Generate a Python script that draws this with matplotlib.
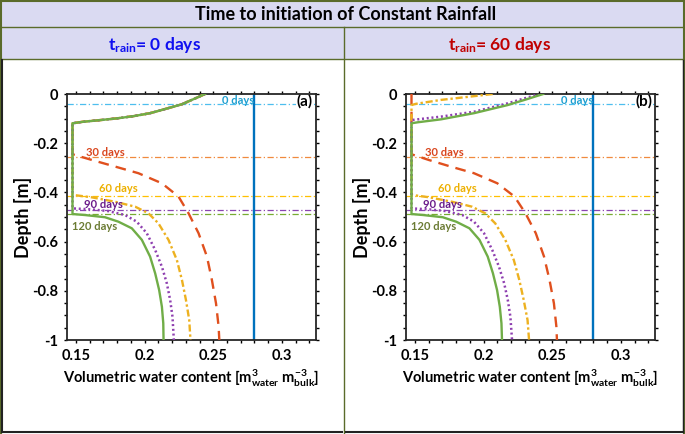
import matplotlib
matplotlib.use("Agg")
import matplotlib.pyplot as plt
from matplotlib.patches import Rectangle
from matplotlib.lines import Line2D
from matplotlib.ticker import MultipleLocator, FuncFormatter

plt.rcParams['font.family'] = 'Lato'
plt.rcParams['font.weight'] = 'bold'
plt.rcParams['axes.unicode_minus'] = False
plt.rcParams['mathtext.fontset'] = 'custom'
plt.rcParams['mathtext.rm'] = 'Lato:bold'
plt.rcParams['mathtext.it'] = 'Lato:bold'
plt.rcParams['mathtext.bf'] = 'Lato:bold'

# ---- data (theta in m3/m3, depth in m) ----
days = ["0 days", "30 days", "60 days", "90 days", "120 days"]
front_depth = [-0.04, -0.255, -0.413, -0.4715, -0.488]   # dash-dot marker lines
sat_theta = 0.2794                                         # 0 days profile

# panel (a): t_rain = 0 days
top_a_theta = [0.244, 0.236, 0.227, 0.215, 0.204, 0.192, 0.180, 0.166, 0.155, 0.1475]
top_a_depth = [0.0, -0.020, -0.042, -0.061, -0.078, -0.090, -0.099, -0.107, -0.113, -0.119]

d30_a_theta = [0.1475, 0.1615, 0.1785, 0.1955, 0.2126, 0.2247, 0.232, 0.2393, 0.2454, 0.249, 0.252, 0.2539, 0.2544]
d30_a_depth = [-0.245, -0.268, -0.295, -0.322, -0.363, -0.417, -0.485, -0.566, -0.661, -0.756, -0.851, -0.946, -1.0]
d60_a_theta = [0.1475, 0.1615, 0.1785, 0.1931, 0.2028, 0.2101, 0.2174, 0.2235, 0.2272, 0.2301, 0.2325, 0.2334]
d60_a_depth = [-0.41, -0.42, -0.438, -0.458, -0.485, -0.526, -0.593, -0.675, -0.756, -0.837, -0.919, -1.0]
d90_a_theta = [0.1475, 0.1615, 0.1736, 0.1858, 0.1943, 0.2016, 0.2077, 0.2126, 0.2162, 0.2186, 0.2203, 0.2213]
d90_a_depth = [-0.465, -0.469, -0.476, -0.492, -0.519, -0.566, -0.634, -0.702, -0.77, -0.837, -0.905, -1.0]
d120_a_theta = [0.1475, 0.1566, 0.1712, 0.1809, 0.1907, 0.198, 0.204, 0.2077, 0.2106, 0.2126, 0.2136, 0.2138]
d120_a_depth = [-0.488, -0.492, -0.501, -0.519, -0.546, -0.593, -0.661, -0.729, -0.797, -0.865, -0.932, -1.0]

# panel (b): t_rain = 60 days
d30_b_theta = [0.1475, 0.1475, 0.1600, 0.1760, 0.1930, 0.2100, 0.2225, 0.2305, 0.2380, 0.2440, 0.2480, 0.2512, 0.2530, 0.2534]
d30_b_depth = [0.0, -0.245, -0.268, -0.295, -0.322, -0.363, -0.417, -0.485, -0.566, -0.661, -0.756, -0.851, -0.946, -1.0]
d60_b_theta = [0.2066, 0.188, 0.169, 0.1507, 0.1475, 0.1475, 0.1605, 0.1770, 0.1915, 0.2012, 0.2085, 0.2158, 0.2220, 0.2260, 0.2292, 0.2320, 0.2331]
d60_b_depth = [0.0, -0.012, -0.024, -0.04, -0.045, -0.41, -0.42, -0.438, -0.458, -0.485, -0.526, -0.593, -0.675, -0.756, -0.837, -0.919, -1.0]
d90_b_theta = [0.241, 0.229, 0.2175, 0.1932, 0.169, 0.152, 0.1475, 0.1475, 0.1605, 0.1725, 0.1845, 0.1930, 0.2003, 0.2063, 0.2112, 0.2150, 0.2176, 0.2195, 0.2207]
d90_b_depth = [0.0, -0.019, -0.038, -0.072, -0.092, -0.103, -0.106, -0.465, -0.469, -0.476, -0.492, -0.519, -0.566, -0.634, -0.702, -0.77, -0.837, -0.905, -1.0]
d120_b_theta = [0.2434, 0.231, 0.2175, 0.193, 0.169, 0.152, 0.1475, 0.1475, 0.1560, 0.1703, 0.1800, 0.1897, 0.1970, 0.2030, 0.2068, 0.2098, 0.2118, 0.2130, 0.2134]
d120_b_depth = [0.0, -0.022, -0.045, -0.078, -0.103, -0.115, -0.119, -0.488, -0.492, -0.501, -0.519, -0.546, -0.593, -0.661, -0.729, -0.797, -0.865, -0.932, -1.0]

label_x = [0.268, 0.1712, 0.1809, 0.1698, 0.1636]
label_y = [-0.027, -0.237, -0.383, -0.449, -0.539]

# ---- styles ----
hline_colors = ['#4DBEEE', '#F08A3E', '#FFC000', '#8A45B0', '#77AC30']
label_colors = ['#1E9FD0', '#D9461E', '#EDB000', '#6A1B8A', '#6B7B33']
c30, c60, c90, c120 = '#E0501E', '#EDB120', '#8E3FB0', '#70AD47'
olive = '#5A6B2A'
lavender = '#DADAF2'

W, H = 685, 434
fig = plt.figure(figsize=(W / 100, H / 100), dpi=100)


def fx(x):
    return x / W


def fy(y):
    return 1 - y / H


# header cells
fig.patches.append(Rectangle((0, fy(59)), 1, fy(0) - fy(59), transform=fig.transFigure,
                             facecolor=lavender, edgecolor='none', zorder=0))
for (x0, y0, x1, y1, col, lw) in [
        (0, 1, W, 1, olive, 1.5), (0, 27, W, 27, olive, 1.0), (0, 59, W, 59, olive, 1.0),
        (1, 0, 1, H, olive, 1.5), (W - 1, 0, W - 1, H, olive, 1.5), (344, 27, 344, H, olive, 1.0),
        (2, 432, 342, 432, '#222222', 1.5), (2, 60, 2, 432, '#222222', 1.5),
        (346, 432, 683, 432, '#222222', 1.5), (683, 60, 683, 432, '#222222', 1.0)]:
    fig.add_artist(Line2D([fx(x0), fx(x1)], [fy(y0), fy(y1)], transform=fig.transFigure,
                          color=col, lw=lw))

fig.text(0.505, fy(14), "Time to initiation of Constant Rainfall", ha='center', va='center',
         fontsize=13, fontweight='bold', color='black')
fig.text(fx(155), fy(45), "$t_{rain}$= 0 days", ha='center', va='center',
         fontsize=12.5, fontweight='bold', color='#1010F0')
fig.text(fx(500), fy(45), "$t_{rain}$= 60 days", ha='center', va='center',
         fontsize=12.5, fontweight='bold', color='#C00000')

panels = [
    ("(a)", 67, [(top_a_theta + d30_a_theta, top_a_depth + d30_a_depth),
                 (top_a_theta + d60_a_theta, top_a_depth + d60_a_depth),
                 (top_a_theta + d90_a_theta, top_a_depth + d90_a_depth),
                 (top_a_theta + d120_a_theta, top_a_depth + d120_a_depth)]),
    ("(b)", 406, [(d30_b_theta, d30_b_depth), (d60_b_theta, d60_b_depth),
                  (d90_b_theta, d90_b_depth), (d120_b_theta, d120_b_depth)]),
]

fmt = FuncFormatter(lambda v, p: f"{round(v, 2) + 0:g}")

for tag, left, curves in panels:
    ax = fig.add_axes([fx(left), fy(340), 249 / W, 246 / H])
    ax.set_xlim(0.1435, 0.3248)
    ax.set_ylim(-1, 0)

    for d, c in zip(front_depth, hline_colors):
        ax.axhline(d, color=c, lw=0.9, dashes=(5, 2, 1, 2), zorder=1)
    ax.axvline(sat_theta, color='#0072BD', lw=1.7, zorder=2)

    (t30, z30), (t60, z60), (t90, z90), (t120, z120) = curves
    ax.plot(t30, z30, color=c30, lw=1.7, dashes=(4.5, 3), zorder=3)
    ax.plot(t60, z60, color=c60, lw=1.7, dashes=(3, 1.2, 1, 1.2), zorder=4)
    ax.plot(t90, z90, color=c90, lw=1.8, dashes=(0.8, 1.1), zorder=5)
    ax.plot(t120, z120, color=c120, lw=1.7, zorder=6)

    for name, x, y, c in zip(days, label_x, label_y, label_colors):
        ax.text(x, y, name, color=c, fontsize=8, fontweight='bold', ha='center',
                va='center', zorder=7)
    ax.text(0.3168, -0.03, tag, fontsize=11, fontweight='bold', ha='center', va='center',
            zorder=2.4, bbox=dict(facecolor='white', edgecolor='none', pad=0.5))

    ax.set_xticks([0.15, 0.2, 0.25, 0.3])
    ax.set_yticks([-1, -0.8, -0.6, -0.4, -0.2, 0])
    ax.xaxis.set_minor_locator(MultipleLocator(0.01))
    ax.yaxis.set_minor_locator(MultipleLocator(0.05))
    ax.xaxis.set_major_formatter(fmt)
    ax.yaxis.set_major_formatter(fmt)
    ax.tick_params(which='both', direction='out', top=True, right=True, length=2.5,
                   width=1, labelsize=10.5, pad=4)
    for lab in ax.get_xticklabels() + ax.get_yticklabels():
        lab.set_fontweight('bold')
    for s in ax.spines.values():
        s.set_linewidth(1.3)
        s.set_color('#262626')

    ax.set_ylabel("Depth [m]", fontsize=13, fontweight='bold', va='center')
    ax.yaxis.set_label_coords(-0.178, 0.5)
    ax.set_xlabel("Volumetric water content [$m^{3}_{water}$ $m^{-3}_{bulk}$]",
                  fontsize=10.5, fontweight='bold', va='center')
    ax.xaxis.set_label_coords(0.5, -0.155)

fig.savefig("out.png", dpi=100)
